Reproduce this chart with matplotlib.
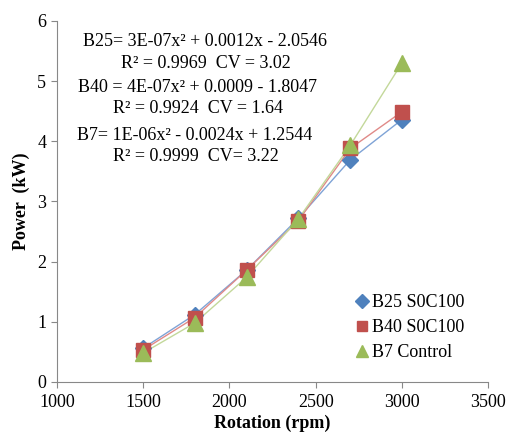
import numpy as np
import matplotlib
matplotlib.use("Agg")
import matplotlib.pyplot as plt

plt.rcParams['font.family'] = ['Liberation Serif', 'DejaVu Serif']

rpm = [1500, 1800, 2100, 2400, 2700, 3000]
b25 = [0.56, 1.12, 1.86, 2.72, 3.69, 4.36]
b40 = [0.53, 1.07, 1.86, 2.68, 3.88, 4.49]
b7 = [0.48, 0.98, 1.74, 2.71, 3.93, 5.30]

labels = ['B25 S0C100', 'B40 S0C100', 'B7 Control']
eq_lines = ['B25= 3E-07x² + 0.0012x - 2.0546',
            'R² = 0.9969  CV = 3.02',
            'B40 = 4E-07x² + 0.0009 - 1.8047',
            'R² = 0.9924  CV = 1.64',
            'B7= 1E-06x² - 0.0024x + 1.2544',
            'R² = 0.9999  CV= 3.22']

fig = plt.figure(figsize=(5.07, 4.36), dpi=100, facecolor='w')
ax = fig.add_axes([0.112, 0.124, 0.851, 0.828])

# series: marker colour, line colour, marker, size
styles = [('#4F81BD', '#7FA3D6', 'D', 8.5),
          ('#C0504D', '#E08A88', 's', 9.5),
          ('#9BBB59', '#C3D89A', '^', 11)]
for y, lab, (mc, lc, mk, ms) in zip([b25, b40, b7], labels, styles):
    ax.plot(rpm, y, color=lc, lw=1.0, zorder=2)
    ax.plot(rpm, y, ls='none', marker=mk, ms=ms, color=mc, mec=mc, label=lab, zorder=3)

ax.set_xlim(1000, 3500)
ax.set_ylim(0, 6)
ax.set_xticks(np.arange(1000, 3501, 500))
ax.set_yticks(np.arange(0, 7, 1))
ax.tick_params(labelsize=13, color='#888888', length=4, width=0.8)
ax.tick_params(axis='x', pad=5)
for s in ('top', 'right'):
    ax.spines[s].set_visible(False)
for s in ('left', 'bottom'):
    ax.spines[s].set_color('#888888')
    ax.spines[s].set_linewidth(0.8)

ax.set_xlabel('Rotation (rpm)', fontsize=13, fontweight='bold', labelpad=2)
ax.set_ylabel('Power  (kW)', fontsize=13, fontweight='bold', labelpad=5)

# equation block, each line centred
xs = [205, 206, 197, 198, 195, 196]
ys = [42, 63, 88, 108, 135, 156]
for t, x, y in zip(eq_lines, xs, ys):
    fig.text(x / 507, 1 - y / 436, t, fontsize=13, ha='center', va='center')

leg = ax.legend(loc='upper left', bbox_to_anchor=(357 / 507, 1 - 294 / 436),
                bbox_transform=fig.transFigure, frameon=False,
                fontsize=13, handlelength=0.6, handletextpad=0.25,
                labelspacing=0.45, borderpad=0, borderaxespad=0,
                markerscale=0.8)

plt.savefig('out.png', dpi=100)
